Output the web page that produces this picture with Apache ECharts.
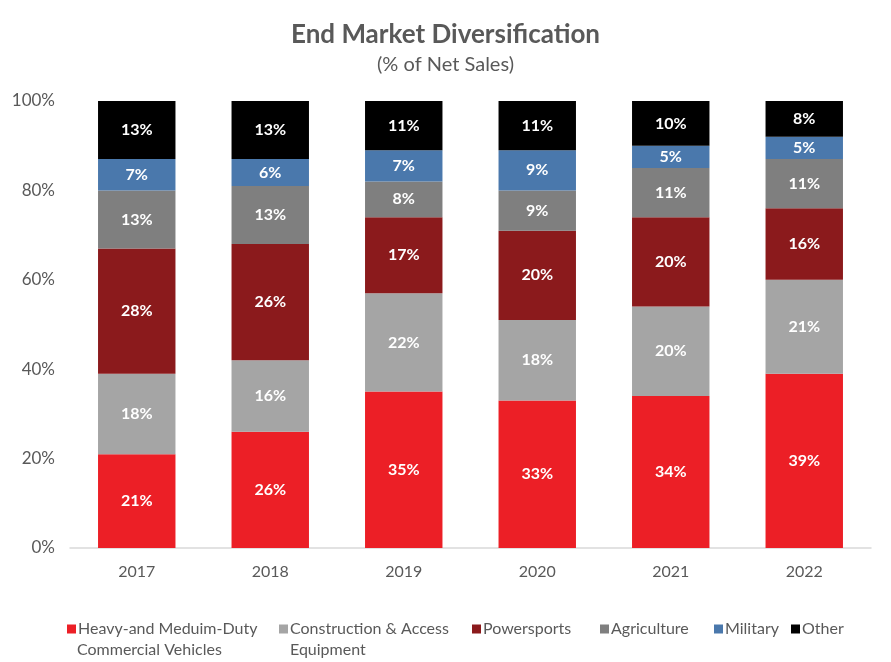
<!DOCTYPE html>
<html><head><meta charset="utf-8">
<script src="https://cdn.jsdelivr.net/npm/echarts@6/dist/echarts.min.js"></script>
<style>html,body{margin:0;padding:0;background:#fff}#c{width:891px;height:662px}</style>
</head><body><div id="c"></div>
<script>
const years = ['2017','2018','2019','2020','2021','2022'];
const heavy = [21,26,35,33,34,39];
const construction = [18,16,22,18,20,21];
const powersports = [28,26,17,20,20,16];
const agriculture = [13,13,8,9,11,11];
const military = [7,6,7,9,5,5];
const other = [13,13,11,11,10,8];
const yTicks = [0,20,40,60,80,100];

const FONT = 'Lato';
const names = ['Heavy-and Meduim-Duty Commercial Vehicles','Construction & Access Equipment','Powersports','Agriculture','Military','Other'];
const firstLines = ['Heavy-and Meduim-Duty','Construction & Access','Powersports','Agriculture','Military','Other'];
const colors = ['#EC1F26','#A5A5A5','#8B1A1C','#7F7F7F','#4A78AC','#000000'];
const datas = [heavy,construction,powersports,agriculture,military,other];
const legendLeft = [62,274,467,595,709,786];

const chart = echarts.init(document.getElementById('c'));
chart.setOption({
  animation:false,
  textStyle:{fontFamily:FONT},
  title:{text:'End Market Diversification',subtext:'(% of Net Sales)',left:'center',top:17,itemGap:7,
    textStyle:{fontFamily:FONT,fontSize:26,fontWeight:'bold',color:'#595959'},
    subtextStyle:{fontFamily:FONT,fontSize:20,color:'#595959'}},
  grid:{left:70,right:20,top:101,bottom:114},
  legend: names.map((n,i)=>({data:[n],left:legendLeft[i],top:616,itemWidth:9,itemHeight:9,itemGap:0,
    icon:'rect',formatter:()=>firstLines[i],
    textStyle:{fontFamily:FONT,fontSize:16,color:'#595959',padding:[0,0,0,-3]}})),
  graphic:[
    {type:'text',left:77,top:642,style:{text:'Commercial Vehicles',font:'16px '+FONT,fill:'#595959'}},
    {type:'text',left:290,top:642,style:{text:'Equipment',font:'16px '+FONT,fill:'#595959'}}
  ],
  xAxis:{type:'category',data:years,axisTick:{show:false},
    axisLine:{lineStyle:{color:'#D9D9D9',width:1.5}},
    axisLabel:{fontFamily:FONT,fontSize:16,color:'#595959',margin:16}},
  yAxis:{type:'value',min:0,max:100,interval:20,splitLine:{show:false},axisLine:{show:false},axisTick:{show:false},
    axisLabel:{fontFamily:FONT,fontSize:17,color:'#595959',margin:15,formatter:v=>v+'%'}},
  series: datas.map((d,i)=>({name:names[i],type:'bar',stack:'s',data:d,barWidth:'58%',
    itemStyle:{color:colors[i]},
    label:{show:true,position:'inside',formatter:p=>p.value+'%',color:'#fff',fontFamily:FONT,fontWeight:'bold',fontSize:16}}))
});
</script></body></html>
